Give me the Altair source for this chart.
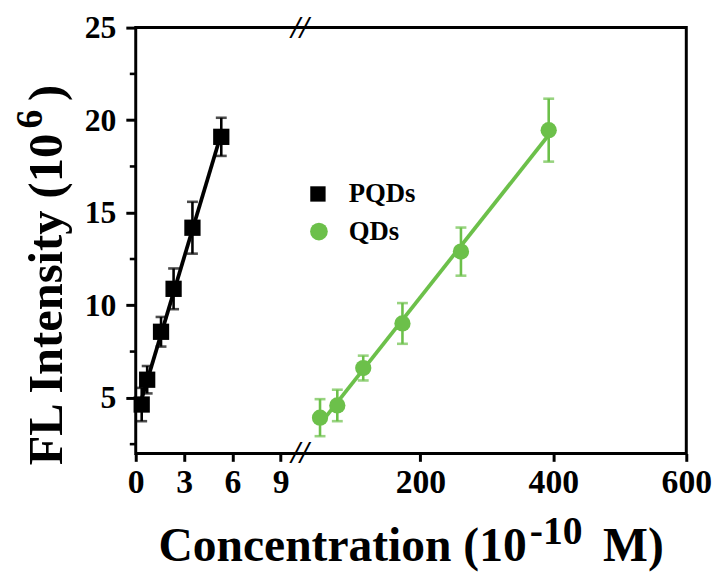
import altair as alt
import pandas as pd

# ---- data ----
series_names = ["PQDs", "QDs"]
series_colors = ["#000000", "#6cc04a"]
series_shapes = ["square", "circle"]

pqd_x = [0.37, 0.71, 1.57, 2.35, 3.52, 5.31]
pqd_y = [4.64, 5.98, 8.57, 10.89, 14.19, 19.10]
pqd_err = [0.9, 0.74, 0.8, 1.1, 1.4, 1.03]

qd_x = [49, 75, 114, 173, 261, 393]
qd_y = [3.93, 4.59, 6.61, 9.02, 12.90, 19.46]
qd_err = [1.0, 0.85, 0.67, 1.1, 1.3, 1.7]

x_tick_values = [0, 3, 6, 9, 200, 400, 600]
y_tick_values = [5, 10, 15, 20, 25]
y_minor_values = [2.5, 7.5, 12.5, 17.5, 22.5]
x_domain = [0, 10.45, 25, 600]   # broken axis: 0-10.45 | 25-600
y_domain = [2, 25]

y_title_parts = ["FL Intensity (10", "6", ")"]
x_title_parts = ["Concentration (10", "-10", "M)"]
break_mark = "//"

rows = []
for s, xs, ys, es in [("PQDs", pqd_x, pqd_y, pqd_err), ("QDs", qd_x, qd_y, qd_err)]:
    for xv, yv, ev in zip(xs, ys, es):
        rows.append({"series": s, "conc": xv, "fl": yv, "lo": yv - ev, "hi": yv + ev})
df = pd.DataFrame(rows)

W, H = 556, 430
LEFT_W = 170
FONT = "Liberation Serif"

xscale = alt.Scale(domain=x_domain, range=[0, LEFT_W, LEFT_W, W], nice=False, zero=False)
yscale = alt.Scale(domain=y_domain, nice=False, zero=False)

x_axis = alt.Axis(values=x_tick_values, title=None, tickSize=8, tickWidth=3,
                  labelFontSize=34, labelPadding=4, labelFlush=False, domain=False, grid=False)
y_axis = alt.Axis(values=y_tick_values, title=None, tickSize=10, tickWidth=3,
                  labelFontSize=32, labelPadding=10, labelFlush=False, domain=False, grid=False)

X = alt.X("conc:Q", scale=xscale, axis=x_axis)
Y = alt.Y("fl:Q", scale=yscale, axis=y_axis)

color_nl = alt.Color("series:N", scale=alt.Scale(domain=series_names, range=series_colors), legend=None)
shape_nl = alt.Shape("series:N", scale=alt.Scale(domain=series_names, range=series_shapes), legend=None)

base = alt.Chart(df)

fit = base.transform_regression("conc", "fl", groupby=["series"]).mark_line(strokeWidth=3.8).encode(
    x=X, y=Y, color=color_nl)

bars = base.mark_rule(strokeWidth=2.6).encode(
    x=X, y=alt.Y("lo:Q", scale=yscale, axis=y_axis), y2="hi:Q", color=color_nl)

caps = base.transform_fold(["lo", "hi"], as_=["end", "val"]).mark_tick(
    orient="horizontal", size=11, thickness=2.6).encode(
    x=X, y=alt.Y("val:Q", scale=yscale, axis=y_axis), color=color_nl)

points = base.mark_point(filled=True, opacity=1, size=270, strokeWidth=0).encode(
    x=X, y=Y, color=color_nl, shape=shape_nl)

minor = alt.Chart(pd.DataFrame({"v": y_minor_values})).mark_rule(
    color="black", strokeWidth=2.6).encode(
    y=alt.Y("v:Q", scale=yscale, axis=y_axis), x=alt.value(-6), x2=alt.value(0))


def txt(s, x, y, size, angle=0, align="left", baseline="alphabetic", italic=False):
    kw = dict(font=FONT, fontWeight="bold", fontSize=size, color="black",
              align=align, baseline=baseline)
    if angle:
        kw["angle"] = angle
    if italic:
        kw["fontStyle"] = "italic"
    return alt.Chart(pd.DataFrame({"t": [s]})).mark_text(**kw).encode(
        text="t:N", x=alt.value(x), y=alt.value(y))


def legend_symbol(i, x, y, size):
    return alt.Chart(pd.DataFrame({"series": [series_names[i]]})).mark_point(
        filled=True, opacity=1, strokeWidth=0, size=size,
        shape=series_shapes[i], color=series_colors[i]).encode(
        x=alt.value(x), y=alt.value(y))


legend_layers = [
    legend_symbol(0, 184, 168, 240),
    txt(series_names[0], 215, 176, 27),
    legend_symbol(1, 185, 206, 320),
    txt(series_names[1], 215, 214, 27),
]

titles = [
    txt(y_title_parts[0], -74, 442, 49, angle=270),
    txt(y_title_parts[1], -95, 102, 38, angle=270),
    txt(y_title_parts[2], -74, 74, 49, angle=270),
    txt(x_title_parts[0], 23, 539, 48),
    txt(x_title_parts[1], 398, 522, 40),
    txt(x_title_parts[2], 472, 539, 48),
    txt(break_mark, LEFT_W - 4, 0, 32, align="center", baseline="middle", italic=True),
    txt(break_mark, LEFT_W - 4, H, 32, align="center", baseline="middle", italic=True),
]

chart = alt.layer(fit, bars, caps, points, minor, *legend_layers, *titles).properties(
    width=W, height=H,
    autosize=alt.AutoSizeParams(type="none"),
    padding={"left": 129, "top": 17, "right": 30, "bottom": 120},
).configure_axis(
    labelFont=FONT, labelFontWeight="bold", labelColor="black", tickColor="black", tickWidth=3,
).configure_view(stroke="black", strokeWidth=3)

chart.save("out.html", embed_options={"renderer": "svg", "actions": False})
